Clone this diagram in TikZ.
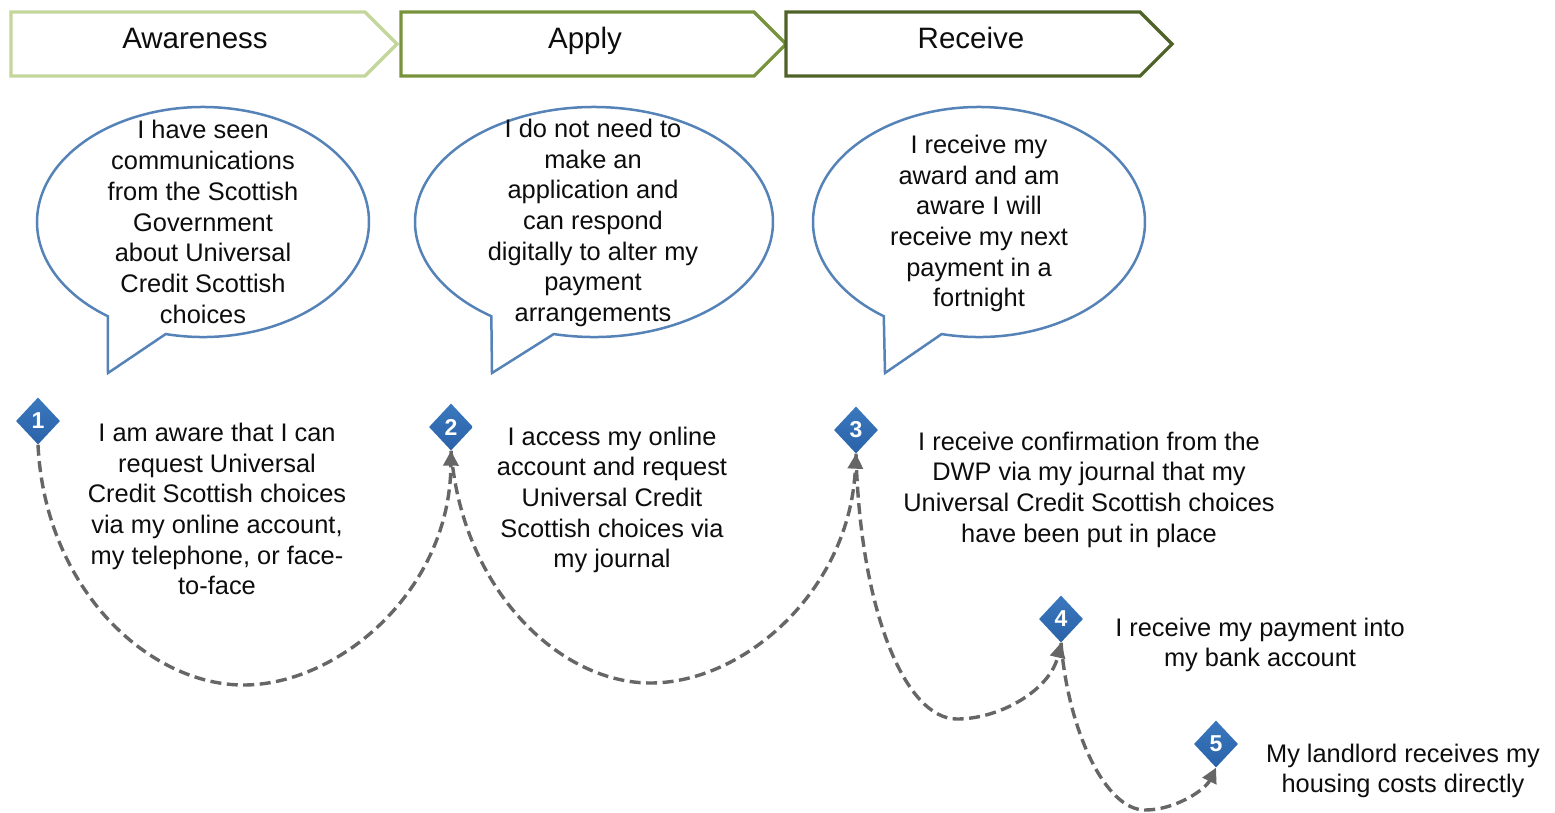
\documentclass[tikz,border=0pt]{standalone}
\usepackage{fontspec}
\setmainfont{Liberation Sans}
\usetikzlibrary{arrows.meta,calc,shapes.geometric}
\definecolor{bluetop}{HTML}{3A78BE}
\definecolor{bluebot}{HTML}{2A62A8}
\definecolor{ballon}{HTML}{5583B8}
\definecolor{dashgrey}{HTML}{666666}
\definecolor{ga}{HTML}{C3D69B}
\definecolor{gb}{HTML}{77933C}
\definecolor{gc}{HTML}{4F6228}
\tikzset{
 body/.style={align=center,inner sep=0pt,font=\fontsize{25.4}{30.7}\selectfont,text=black!95},
 headtxt/.style={inner sep=0pt,anchor=base,font=\fontsize{29.5}{30}\selectfont,text=black!95},
 chev/.style={line width=3.2pt,line join=miter,fill=white},
 balloon/.style={draw=ballon,line width=2.5pt,fill=white,line join=miter},
 num/.style={diamond,top color=bluetop,bottom color=bluebot,draw=none,inner sep=0pt,minimum width=44pt,minimum height=47pt,text=white,font=\fontsize{23}{23}\selectfont\bfseries},
 link/.style={draw=dashgrey,line width=3.4pt,dash pattern=on 11pt off 5.5pt,-{Stealth[length=15pt,width=15pt,inset=0pt]}},
}
\newcommand{\chevron}[3]{%
 \draw[chev,draw=#3] (#1,12) -- (#2-32,12) -- (#2,44) -- (#2-32,76) -- (#1,76) -- cycle;}
\newcommand{\callout}[7]{% cx cy rx ry startangle endangle tip
 \coordinate (c) at (#1,#2);
 \draw[balloon] ($(c)+(#6:#3pt and #4pt)$) arc[start angle=#6,end angle=#5+360,x radius=#3pt,y radius=#4pt] -- (#7) -- cycle;}
\begin{document}
\begin{tikzpicture}[x=1pt,y=-1pt]
\useasboundingbox (0,0) rectangle (1555,812);
\chevron{11}{397}{ga}
\chevron{401}{786}{gb}
\chevron{786}{1172}{gc}
\node[headtxt] (h1) at (195,48) {Awareness};
\node[headtxt] (h2) at (585,48) {Apply};
\node[headtxt] (h3) at (971,48) {Receive};

\coordinate (t1) at (108,373);
\coordinate (t2) at (492,373);
\coordinate (t3) at (885,373);
\callout{203}{222}{166}{115}{235}{257}{t1}
\callout{594}{222}{179}{115}{235}{257}{t2}
\callout{979}{222}{166}{115}{235}{257}{t3}

\node[body] (b1) at (203,222) {I have seen\\communications\\from the Scottish\\Government\\about Universal\\Credit Scottish\\choices};
\node[body] (b2) at (593,223) {I do not need to\\make an\\application and\\can respond\\digitally to alter my\\payment\\arrangements};
\node[body] (b3) at (979,223.5) {I receive my\\award and am\\aware I will\\receive my next\\payment in a\\fortnight};

\node[num] (d1) at (38,421) {1};
\node[num] (d2) at (451,427) {2};
\node[num] (d3) at (856,430) {3};
\node[num] (d4) at (1061,619) {4};
\node[num] (d5) at (1216,744) {5};

\node[body] (s1) at (217,509) {I am aware that I can\\request Universal\\Credit Scottish choices\\via my online account,\\my telephone, or face-\\to-face};
\node[body] (s2) at (612,500) {I access my online\\account and request\\Universal Credit\\Scottish choices via\\my journal};
\node[body] (s3) at (1089,489.5) {I receive confirmation from the\\DWP via my journal that my\\Universal Credit Scottish choices\\have been put in place};
\node[body] (s4) at (1260,645) {I receive my payment into\\my bank account};
\node[body] (s5) at (1403,771) {My landlord receives my\\housing costs directly};

\draw[link] (d1.south) .. controls (45,590) and (150,686) .. (245,685) .. controls (340,684) and (450,590) .. (d2.south);
\draw[link] (d2.south) .. controls (462,590) and (560,684) .. (652,683) .. controls (745,682) and (850,590) .. (d3.south);
\draw[link] (d3.south) .. controls (860,610) and (905,719) .. (957,719) .. controls (1000,719) and (1050,690) .. (d4.south);
\draw[link] (d4.south) .. controls (1068,730) and (1105,810) .. (1145,810) .. controls (1175,810) and (1205,790) .. (d5.south);
\end{tikzpicture}
\end{document}
